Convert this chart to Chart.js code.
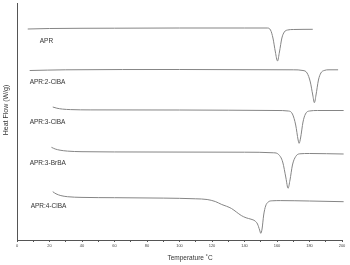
<!DOCTYPE html>
<html>
<head>
<meta charset="utf-8">
<script src="https://cdn.jsdelivr.net/npm/chart.js@4"></script>
<style>
  body { margin: 0; background: #fff; }
  canvas { display: block; }
</style>
</head>
<body>
<canvas id="dsc" width="350" height="265"></canvas>
<script>
// DSC curves, heat flow in arbitrary offset units (curves are stacked)
const aprT = [6.6, 20, 60, 100, 140, 154, 156, 157.5, 159, 160.3, 161.5, 163, 164.5, 166.5, 170, 182]
const aprY = [211, 211.5, 211.8, 212, 212, 212, 210, 202, 188, 179, 188, 202, 208, 210, 210.5, 210.7]

const cl2T = [7.8, 30, 100, 170, 176, 178.5, 180.5, 182, 183, 184, 185.5, 187, 189, 192, 197.6]
const cl2Y = [169.5, 170.2, 170.5, 170.2, 169.5, 167, 158, 145, 137.3, 145, 160, 167, 169.5, 170.2, 170.2]

const cl3T = [22, 24.5, 28, 33, 45, 100, 160, 167, 169.5, 171.5, 173, 173.6, 174.5, 176, 177.5, 180, 185, 201]
const cl3Y = [133, 131.8, 130.9, 130.4, 130.1, 130, 129.5, 129, 126, 115, 100, 96.7, 102, 118, 126, 129, 129.5, 129.5]

const br3T = [21.2, 23.5, 26.5, 31, 40, 80, 140, 158, 161, 163.5, 165.5, 166.8, 168, 169.5, 171.5, 174, 180, 201]
const br3Y = [92.7, 91, 89.8, 88.9, 88.3, 88, 87.8, 87.2, 85.5, 78, 62, 51.7, 60, 75, 83.5, 86.2, 86.5, 86]

const cl4T = [22, 24, 27, 31, 40, 60, 90, 110, 117, 122, 126, 129, 132, 135, 138, 141, 144, 146.5, 148, 149.3, 150, 150.8, 151.8, 153, 154.6, 157, 162, 180, 201]
const cl4Y = [48.3, 46.2, 44.4, 43.3, 42.6, 42.3, 41.9, 41.2, 40.5, 38.5, 35.5, 33.7, 31.5, 28, 24.5, 22.2, 20.8, 19, 16, 10, 6.7, 11, 25, 34, 38, 39.2, 39.4, 39, 38.3]

const names = ['APR', 'APR:2-ClBA', 'APR:3-ClBA', 'APR:3-BrBA', 'APR:4-ClBA']
const seriesT = [aprT, cl2T, cl3T, br3T, cl4T]
const seriesY = [aprY, cl2Y, cl3Y, br3Y, cl4Y]

// where each curve name sits, in data coordinates
const labelT = [14, 7.8, 7.8, 7.8, 8.4]
const labelY = [199, 158, 118, 77, 34]

const font = 'Liberation Sans, Arial, sans-serif'

const datasets = names.map(function (name, i) {
    return {
        label: name,
        data: seriesT[i].map(function (t, j) { return { x: t, y: seriesY[i][j] } }),
        borderColor: '#858585',
        borderWidth: 1,
        pointRadius: 0,
        cubicInterpolationMode: 'monotone',
        clip: false
    }
})

const textPlugin = {
    id: 'dscText',
    afterDraw(chart) {
        const ctx = chart.ctx
        const x = chart.scales.x
        const y = chart.scales.y
        ctx.save()
        ctx.fillStyle = '#333'
        ctx.font = '6.5px ' + font
        ctx.textBaseline = 'middle'
        ctx.textAlign = 'left'
        names.forEach(function (name, i) {
            ctx.fillText(name, x.getPixelForValue(labelT[i]), y.getPixelForValue(labelY[i]))
        })
        // axis titles
        ctx.textAlign = 'center'
        ctx.fillText('Temperature \u02DAC', 190, 258)
        ctx.font = '7px ' + font
        ctx.translate(6, 110)
        ctx.rotate(-Math.PI / 2)
        ctx.fillText('Heat Flow (W/g)', 0, 0)
        ctx.restore()
    }
}

new Chart(document.getElementById('dsc'), {
    type: 'line',
    data: { datasets: datasets },
    options: {
        responsive: false,
        animation: false,
        devicePixelRatio: 1,
        layout: { padding: { top: 3, right: 8 } },
        plugins: {
            legend: { display: false },
            tooltip: { enabled: false }
        },
        scales: {
            x: {
                type: 'linear',
                min: 0,
                max: 200,
                afterFit: function (s) { s.height = 25 },
                border: { display: true, color: '#555', width: 1 },
                grid: { drawOnChartArea: false, tickLength: 2, color: '#555' },
                ticks: {
                    stepSize: 10,
                    autoSkip: false,
                    maxRotation: 0,
                    padding: 1,
                    color: '#444',
                    font: { size: 4, family: font },
                    callback: function (v) { return v % 20 === 0 ? v : '' }
                }
            },
            y: {
                min: 0,
                max: 237,
                afterFit: function (s) { s.width = 17 },
                border: { display: true, color: '#555', width: 1 },
                grid: { display: false },
                ticks: { display: false }
            }
        }
    },
    plugins: [textPlugin]
})
</script>
</body>
</html>
